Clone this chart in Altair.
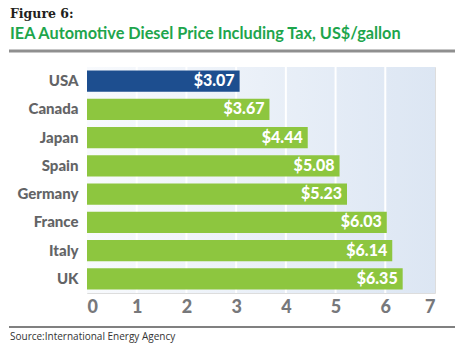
import altair as alt
import pandas as pd

countries = ["USA", "Canada", "Japan", "Spain", "Germany", "France", "Italy", "UK"]
prices = [3.07, 3.67, 4.44, 5.08, 5.23, 6.03, 6.14, 6.35]
labels = ["$3.07", "$3.67", "$4.44", "$5.08", "$5.23", "$6.03", "$6.14", "$6.35"]
groups = ["US", "Other", "Other", "Other", "Other", "Other", "Other", "Other"]
ticks = [0, 1, 2, 3, 4, 5, 6, 7]
grid_vals = [1, 2, 3, 4, 5, 6]

fig_label = "Figure 6:"
title_text = "IEA Automotive Diesel Price Including Tax, US$/gallon"
source_text = "Source:International Energy Agency"

W, H = 348, 226
df = pd.DataFrame({"Country": countries, "Price": prices, "Label": labels, "Group": groups})

xscale = alt.Scale(domain=[0, 7], nice=False)
yenc = alt.Y("Country:N", sort=countries,
             scale=alt.Scale(paddingInner=0.25, paddingOuter=0.125),
             axis=alt.Axis(title=None, domain=False, ticks=False, labelFont="Lato",
                           labelFontWeight=900, labelFontSize=15, labelColor="#636466",
                           labelPadding=9))

bg = alt.Chart(pd.DataFrame({"a": [0], "b": [7]})).mark_rect(
    fill=alt.Gradient(gradient="linear", x1=0, x2=1, y1=0, y2=0,
                      stops=[alt.GradientStop(color="#f8fafd", offset=0),
                             alt.GradientStop(color="#dce6f3", offset=1)])
).encode(x=alt.X("a:Q", scale=xscale), x2="b:Q", y=alt.value(0), y2=alt.value(H))

grid = alt.Chart(pd.DataFrame({"g": grid_vals})).mark_rule(color="white", strokeWidth=2).encode(
    x=alt.X("g:Q", scale=xscale), y=alt.value(0), y2=alt.value(H))

bars = alt.Chart(df).mark_bar().encode(
    x=alt.X("Price:Q", scale=xscale,
            axis=alt.Axis(title=None, values=ticks, grid=False, domain=False, ticks=False,
                          labelFont="Lato", labelFontWeight=900, labelFontSize=18,
                          labelColor="#77787b", labelPadding=5)),
    y=yenc,
    color=alt.Color("Group:N", scale=alt.Scale(domain=["US", "Other"], range=["#1d4e8f", "#8dc63f"]),
                    legend=None),
)

text = alt.Chart(df).mark_text(align="right", baseline="middle", dx=-5, color="white",
                               font="Lato", fontWeight=900, fontSize=16).encode(
    x=alt.X("Price:Q", scale=xscale), y=alt.Y("Country:N", sort=countries), text="Label:N")

fig = alt.Chart(pd.DataFrame({"t": [fig_label]})).mark_text(
    align="left", baseline="alphabetic", font="DejaVu Serif", fontWeight="bold", fontSize=12.5,
    color="#231f20").encode(text="t:N", x=alt.value(-77), y=alt.value(-49))

ttl = alt.Chart(pd.DataFrame({"t": [title_text]})).mark_text(
    align="left", baseline="alphabetic", font="Lato", fontWeight="bold", fontSize=16.3,
    color="#1ea54c").encode(text="t:N", x=alt.value(-77), y=alt.value(-28))

rule_top = alt.Chart(pd.DataFrame({"r": [0]})).mark_rule(color="#8f8f8f", strokeWidth=3).encode(
    x=alt.value(-78), x2=alt.value(368), y=alt.value(-16))

rule_bot = alt.Chart(pd.DataFrame({"r": [0]})).mark_rule(color="#808080", strokeWidth=2).encode(
    x=alt.value(-78), x2=alt.value(368), y=alt.value(260))

src = alt.Chart(pd.DataFrame({"t": [source_text]})).mark_text(
    align="left", baseline="alphabetic", font="Open Sans", fontSize=10,
    color="#333333").encode(text="t:N", x=alt.value(-77), y=alt.value(273))

chart = alt.layer(bg, grid, bars, text, fig, ttl, rule_top, rule_bot, src).properties(
    width=W, height=H,
    autosize=alt.AutoSizeParams(type="none"),
    padding={"left": 87, "top": 67, "right": 30, "bottom": 53},
).configure_view(stroke=None).configure(background="white")

chart.save("out.html", embed_options={"renderer": "svg", "actions": False})
